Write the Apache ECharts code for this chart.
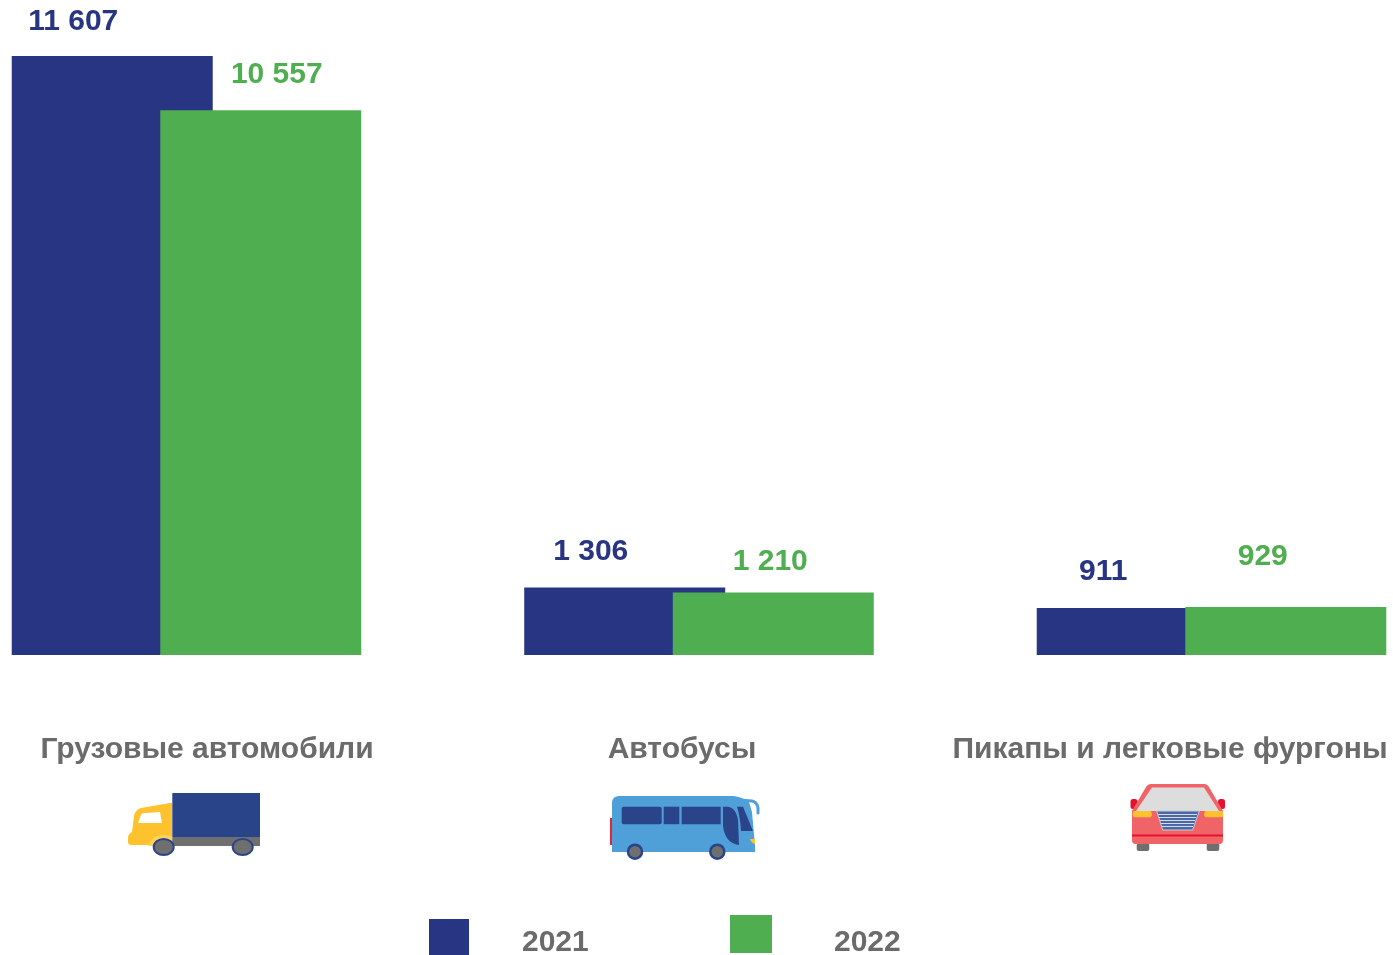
<!DOCTYPE html>
<html><head><meta charset="utf-8">
<style>html,body{margin:0;padding:0;background:#fff}#c{width:1393px;height:955px}</style>
<script src="https://cdn.jsdelivr.net/npm/echarts@6/dist/echarts.min.js"></script>
</head><body><div id="c"></div>
<script>
const categories = ['Грузовые автомобили', 'Автобусы', 'Пикапы и легковые фургоны'];
const years = ['2021', '2022'];
const values2021 = [11607, 1306, 911];
const values2022 = [10557, 1210, 929];

const BLUE = '#283583', GREEN = '#4fae50', GREY = '#6b6b6b';
const FONT = '"Liberation Sans", Arial, sans-serif';
const fmt = v => String(v).replace(/\B(?=(\d{3})+$)/g, ' ');
const offs2021 = [[-39, -14], [-34, -16], [-34, -16]];
const offs2022 = [[16, -15], [-3, -11], [-23, -30]];
const catShift = [20.5, -17, -41.5];

const mkData = (vals, offs) => vals.map((v, i) => ({
  value: v, label: { offset: offs[i] }
}));
const mkSeries = (name, vals, offs, color) => ({
  type: 'bar', name, data: mkData(vals, offs), barWidth: 201, barGap: '-26.1%',
  itemStyle: { color }, animation: false,
  label: { show: true, position: 'top', distance: 5, color, fontFamily: FONT, fontWeight: 'bold', fontSize: 30,
    formatter: p => fmt(p.value) }
});

const rich = {};
catShift.forEach((d, i) => {
  rich['c' + i] = { fontFamily: FONT, fontWeight: 'bold', fontSize: 30, color: GREY,
    padding: d >= 0 ? [0, 0, 0, 2 * d] : [0, -2 * d, 0, 0] };
});

const R = (x, y, w, h, fill, r) => ({ type: 'rect', shape: { x, y, width: w, height: h, r: r || 0 }, style: { fill } });
const P = (points, fill, stroke, lineWidth) => ({ type: 'polygon', shape: { points }, style: { fill, stroke, lineWidth } });
const W = (cx, cy, rx, ry, fill, stroke, lineWidth) => ({ type: 'ellipse', shape: { cx, cy, rx, ry }, style: { fill, stroke, lineWidth } });
// flatten a small "M/L/Q/Z" outline into polygon or polyline points
const flatten = d => {
  const t = d.match(/[MLQZ]|-?[\d.]+/g), pts = [];
  let i = 0, cx = 0, cy = 0;
  while (i < t.length) {
    const c = t[i++];
    if (c === 'M' || c === 'L') { cx = +t[i++]; cy = +t[i++]; pts.push([cx, cy]); }
    else if (c === 'Q') {
      const qx = +t[i++], qy = +t[i++], ex = +t[i++], ey = +t[i++];
      for (let k = 1; k <= 8; k++) {
        const u = k / 8, v = 1 - u;
        pts.push([v * v * cx + 2 * u * v * qx + u * u * ex, v * v * cy + 2 * u * v * qy + u * u * ey]);
      }
      cx = ex; cy = ey;
    }
  }
  return pts;
};
const PA = (d, fill) => ({ type: 'polygon', shape: { points: flatten(d) }, style: { fill } });
const PL = (d, stroke, lineWidth) => ({ type: 'polyline', shape: { points: flatten(d) }, style: { fill: 'none', stroke, lineWidth, lineCap: 'round' } });

const truck = [
  PA('M170 803 L141 808 Q135 810 134 816 L132 832 Q128 834 128 838 L128 842 Q128 845 132 845 L172 845 L172 803 Z', '#fec22f'),
  PA('M148 846 Q152 835 164 835 Q175 835 179 846 Z', '#fdd25e'),
  PA('M138 823 L141 815 Q142 813 145 813 L160 812 L162 823 Z', '#ffffff'),
  R(172.3, 793, 87.7, 44, '#2a4489'),
  R(172.3, 837, 87.7, 9, '#6f6f6f'),
  W(163.7, 847, 10, 8, '#6f6f6f', '#2a4489', 2),
  W(242.7, 847, 10, 8, '#6f6f6f', '#2a4489', 2)
];
const bus = [
  R(610, 818, 2.5, 27, '#e5243b'),
  PA('M612 803 Q612 796 620 796 L733 796 Q742 797 749 802 L752 812 L755 846 L755 852 L612 852 Z', '#4f9fd9'),
  PL('M738 800 L752 801 Q757 802 758 808 L758 813', '#4f9fd9', 3),
  R(621.7, 806.7, 40, 17.5, '#2a4489', 2),
  R(663.7, 806.7, 15.6, 17.5, '#2a4489'),
  R(681.7, 806.7, 39, 17.5, '#2a4489'),
  PA('M723 806.7 L728 806.7 Q736 808 738 820 L739 845 Q725 843 723 826 Z', '#2a4489'),
  PA('M737 806.7 L743 806.7 L753 831 L741 831 Q740 816 737 806.7 Z', '#2a4489'),
  PA('M750 839 L755 839 L755 844 Q751 843 750 839 Z', '#fec22f'),
  W(635, 851.7, 7, 7, '#6f6f6f', '#2a4489', 2.5),
  W(717.3, 851.7, 7, 7, '#6f6f6f', '#2a4489', 2.5)
];
const car = [
  R(1136.7, 843, 12.6, 8, '#6f6f6f', 2),
  R(1206.7, 843, 12.6, 8, '#6f6f6f', 2),
  R(1130.5, 799, 7, 10, '#e5122e', 2.5),
  R(1218, 799, 7, 10, '#e5122e', 2.5),
  PA('M1151 784 L1204 784 Q1207 784 1209 787 L1223 811 L1223 840 Q1223 844 1219 844 L1136 844 Q1132 844 1132 840 L1132 811 L1146 787 Q1148 784 1151 784 Z', '#f06467'),
  P([[1152, 787.5], [1204, 787.5], [1219, 811], [1136, 811]], '#dedddd'),
  R(1132.7, 811, 19, 6.3, '#fec22f', 2),
  R(1204.3, 811, 19, 6.3, '#fec22f', 2),
  P([[1156.7, 811], [1199.3, 811], [1192.7, 830], [1162.7, 830]], '#4a68a8', '#c8cbd6', 1),
  R(1158, 814, 39, 1, '#d6dbe8'),
  R(1159, 817, 37, 1, '#d6dbe8'),
  R(1160, 820, 35, 1, '#d6dbe8'),
  R(1161, 823, 33, 1, '#d6dbe8'),
  R(1162, 826, 31, 1, '#d6dbe8'),
  R(1132, 834.5, 91, 2, '#e5122e')
];

const legendText = (padTop, padLeft) => ({
  rich: { y: { color: GREY, fontFamily: FONT, fontWeight: 'bold', fontSize: 30, padding: [padTop, 0, 0, padLeft] } }
});

const chart = echarts.init(document.getElementById('c'), null, { renderer: 'canvas', width: 1393, height: 955 });
chart.setOption({
  animation: false,
  backgroundColor: '#fff',
  grid: { left: -69.75, width: 1537.5, top: 35.7, height: 619.3, containLabel: false, outerBoundsMode: 'none' },
  xAxis: {
    type: 'category', data: categories,
    axisLine: { show: false }, axisTick: { show: false },
    axisLabel: { interval: 0, margin: 80, hideOverlap: false,
      formatter: (v, i) => '{c' + i + '|' + v + '}', rich }
  },
  yAxis: { type: 'value', min: 0, max: 12000, show: false, splitLine: { show: false } },
  legend: [
    { data: [years[0]], left: 429, top: 919, padding: 0, itemWidth: 40, itemHeight: 36, icon: 'rect', selectedMode: false,
      formatter: '{y|{name}}', textStyle: legendText(12, 48) },
    { data: [years[1]], left: 730, top: 915, padding: 0, itemWidth: 42, itemHeight: 38, icon: 'rect', selectedMode: false,
      formatter: '{y|{name}}', textStyle: legendText(18, 57) }
  ],
  series: [
    mkSeries(years[0], values2021, offs2021, BLUE),
    mkSeries(years[1], values2022, offs2022, GREEN)
  ],
  graphic: [...truck, ...bus, ...car].map(g => Object.assign(g, { silent: true }))
});
</script></body></html>
